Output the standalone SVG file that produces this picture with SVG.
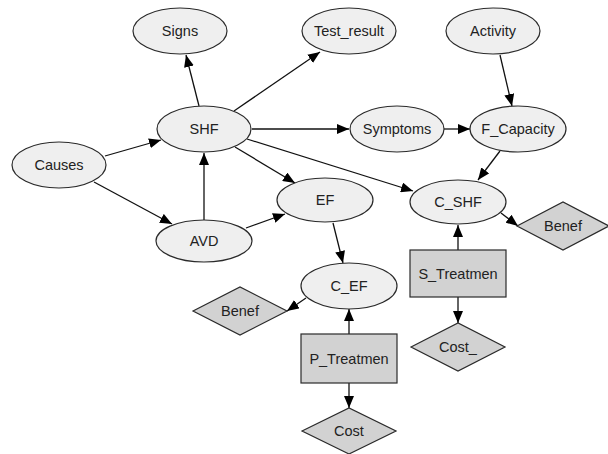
<svg xmlns="http://www.w3.org/2000/svg" width="608" height="454" viewBox="0 0 608 454">
<style>
.ch{fill:#efefef;stroke:#2a2a2a;stroke-width:1.2}
.dc{fill:#d2d2d2;stroke:#2a2a2a;stroke-width:1.2}
.e{stroke:#111;stroke-width:1.3;fill:none;marker-end:url(#ah)}
text{font-family:"Liberation Sans",Arial,sans-serif;font-size:14.5px;fill:#222;text-anchor:middle;dominant-baseline:central}
</style>
<defs>
<marker id="ah" viewBox="0 0 12 10" refX="12" refY="5" markerWidth="12" markerHeight="10" markerUnits="userSpaceOnUse" orient="auto">
<path d="M0,0 L12,5 L0,10 Z" fill="#000"/>
</marker>
</defs>
<rect width="608" height="454" fill="#fff"/>
<g id="connectors">
<line class="e" x1="105" y1="156" x2="161" y2="140"/>
<line class="e" x1="94" y1="182" x2="172" y2="224"/>
<line class="e" x1="204" y1="220" x2="204" y2="153"/>
<line class="e" x1="246" y1="228" x2="285" y2="214"/>
<line class="e" x1="199" y1="106" x2="186" y2="55"/>
<line class="e" x1="234" y1="111" x2="320" y2="52"/>
<line class="e" x1="252" y1="129" x2="349" y2="129"/>
<line class="e" x1="235" y1="147" x2="295" y2="183"/>
<line class="e" x1="247" y1="139" x2="413" y2="191"/>
<line class="e" x1="500" y1="55" x2="512" y2="106"/>
<line class="e" x1="444" y1="129" x2="470" y2="129"/>
<line class="e" x1="500" y1="151" x2="478" y2="180"/>
<line class="e" x1="333" y1="223" x2="343" y2="263"/>
<line class="e" x1="306" y1="298" x2="287" y2="311"/>
<line class="e" x1="349" y1="334" x2="349" y2="309"/>
<line class="e" x1="349" y1="383" x2="349" y2="408"/>
<line class="e" x1="501" y1="213" x2="518" y2="226"/>
<line class="e" x1="458" y1="250" x2="458" y2="225"/>
<line class="e" x1="458" y1="297" x2="458" y2="323"/>
</g>
<g id="Signs"><ellipse class="ch" cx="180" cy="31" rx="47" ry="23"/><text x="180" y="31">Signs</text></g>
<g id="Test_result"><ellipse class="ch" cx="349" cy="31" rx="47" ry="23"/><text x="349" y="31">Test_result</text></g>
<g id="Activity"><ellipse class="ch" cx="493" cy="31" rx="47" ry="23"/><text x="493" y="31">Activity</text></g>
<g id="SHF"><ellipse class="ch" cx="204" cy="129" rx="47" ry="23"/><text x="204" y="129">SHF</text></g>
<g id="Causes"><ellipse class="ch" cx="59" cy="165" rx="47" ry="23"/><text x="59" y="165">Causes</text></g>
<g id="Symptoms"><ellipse class="ch" cx="397" cy="129" rx="47" ry="23"/><text x="397" y="129">Symptoms</text></g>
<g id="F_Capacity"><ellipse class="ch" cx="518" cy="129" rx="48" ry="23"/><text x="518" y="129">F_Capacity</text></g>
<g id="EF"><ellipse class="ch" cx="325" cy="200" rx="48" ry="22"/><text x="325" y="200">EF</text></g>
<g id="C_SHF"><ellipse class="ch" cx="458" cy="202" rx="48" ry="22"/><text x="458" y="202">C_SHF</text></g>
<g id="AVD"><ellipse class="ch" cx="204" cy="241" rx="48" ry="21"/><text x="204" y="241">AVD</text></g>
<g id="C_EF"><ellipse class="ch" cx="349" cy="286" rx="48" ry="23"/><text x="349" y="286">C_EF</text></g>
<g id="Benef_left"><polygon class="dc" points="193,311 240,287 287,311 240,335"/><text x="240" y="311">Benef</text></g>
<g id="Benef_right"><polygon class="dc" points="517,226 563,202 609,226 563,250"/><text x="563" y="226">Benef</text></g>
<g id="P_Treatmen"><rect class="dc" x="301" y="334" width="96" height="49"/><text x="349" y="358.5">P_Treatmen</text></g>
<g id="S_Treatmen"><rect class="dc" x="410" y="250" width="96" height="47"/><text x="458" y="273.5">S_Treatmen</text></g>
<g id="Cost"><polygon class="dc" points="302,431 349,408 396,431 349,454"/><text x="349" y="431">Cost</text></g>
<g id="Cost_"><polygon class="dc" points="411,347 458,323 505,347 458,371"/><text x="458" y="347">Cost_</text></g>
</svg>
